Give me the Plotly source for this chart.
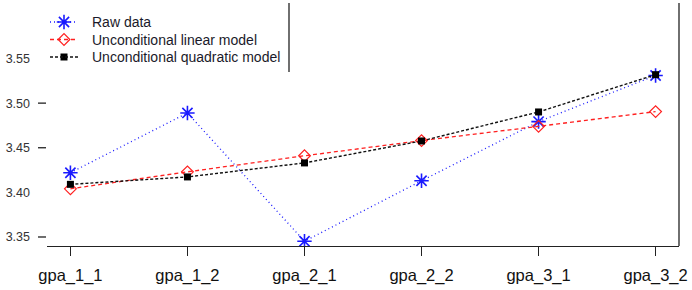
import plotly.graph_objects as go

categories = ["gpa_1_1", "gpa_1_2", "gpa_2_1", "gpa_2_2", "gpa_3_1", "gpa_3_2"]
raw_data = [3.422, 3.489, 3.3452, 3.413, 3.4793, 3.531]
linear_model = [3.404, 3.423, 3.441, 3.458, 3.474, 3.4905]
quadratic_model = [3.409, 3.4173, 3.433, 3.4576, 3.4901, 3.5319]
series_names = ["Raw data", "Unconditional linear model", "Unconditional quadratic model"]
y_tick_values = [3.35, 3.40, 3.45, 3.50, 3.55]
y_tick_labels = ["3.35", "3.40", "3.45", "3.50", "3.55"]
y_tick_marks_visible = [3.35, 3.45, 3.50]

FONT = "Liberation Sans, Arial, sans-serif"

styles = [
    dict(line=dict(color="#1a1aff", width=1.3, dash="1px,3px"),
         marker=dict(symbol="asterisk-open", size=12, color="#1a1aff",
                     line=dict(color="#1a1aff", width=1.6))),
    dict(line=dict(color="#ff2020", width=1.3, dash="4px,3px"),
         marker=dict(symbol="diamond-open", size=9, color="#ff2020",
                     line=dict(color="#ff2020", width=1.2))),
    dict(line=dict(color="#111111", width=1.4, dash="3px,2px"),
         marker=dict(symbol="square", size=7, color="#000000")),
]
series_values = [raw_data, linear_model, quadratic_model]

fig = go.Figure()
for name, vals, st in zip(series_names, series_values, styles):
    fig.add_trace(go.Scatter(x=categories, y=vals, name=name, mode="lines+markers",
                             line=st["line"], marker=st["marker"], showlegend=False))

# manual legend in pixel coordinates (overlay axes x2/y2 mapped to pixels)
LEG_X0, LEG_X1, LEG_TEXT_X = 50, 78, 90
LEG_ROWS = [22, 39.5, 57]
shapes = []
annotations = []
for name, st, row in zip(series_names, styles, LEG_ROWS):
    shapes.append(dict(type="line", xref="x2", yref="y2", x0=LEG_X0, x1=LEG_X1, y0=row, y1=row,
                       line=st["line"]))
    fig.add_trace(go.Scatter(x=[(LEG_X0 + LEG_X1) / 2], y=[row], xaxis="x2", yaxis="y2",
                             mode="markers", marker=st["marker"], showlegend=False,
                             hoverinfo="skip"))
    annotations.append(dict(xref="x2", yref="y2", x=LEG_TEXT_X, y=row, text=name,
                            showarrow=False, xanchor="left", yanchor="middle",
                            font=dict(size=14, family=FONT, color="#1a1a2a")))

# right border line
shapes.append(dict(type="line", xref="paper", yref="paper", x0=1, x1=1, y0=0, y1=1,
                   line=dict(color="#222222", width=1.3)))
# legend box right border
shapes.append(dict(type="line", xref="x2", yref="y2", x0=289, x1=289, y0=3, y1=72,
                   line=dict(color="#222222", width=1.3)))
for v in y_tick_marks_visible:
    shapes.append(dict(type="line", xref="paper", yref="y", x0=-9 / 632, x1=-1 / 632, y0=v, y1=v,
                       line=dict(color="#222222", width=1.3)))

fig.update_layout(
    width=692, height=290,
    margin=dict(l=47, r=13, t=3, b=44),
    paper_bgcolor="white", plot_bgcolor="white",
    font=dict(family=FONT, color="#111111"),
    showlegend=False,
    shapes=shapes,
    annotations=annotations,
    xaxis=dict(
        type="category", range=[-0.2, 5.2],
        showgrid=False, zeroline=False,
        showline=True, linecolor="#222222", linewidth=1.3,
        ticks="outside", ticklen=9, tickcolor="#222222", tickwidth=1.3,
        tickfont=dict(size=16.5, family=FONT, color="#111111"),
        ticklabelstandoff=5,
    ),
    yaxis=dict(
        range=[3.3399, 3.6122],
        showgrid=False, zeroline=False, showline=False,
        tickvals=y_tick_values, ticktext=y_tick_labels,
        ticks="", ticklabelstandoff=16,
        tickfont=dict(size=12.5, family=FONT, color="#333333"),
    ),
    xaxis2=dict(overlaying="x", range=[47, 679], visible=False, fixedrange=True),
    yaxis2=dict(overlaying="y", range=[246, 3], visible=False, fixedrange=True),
)

fig.write_html("out.html")
